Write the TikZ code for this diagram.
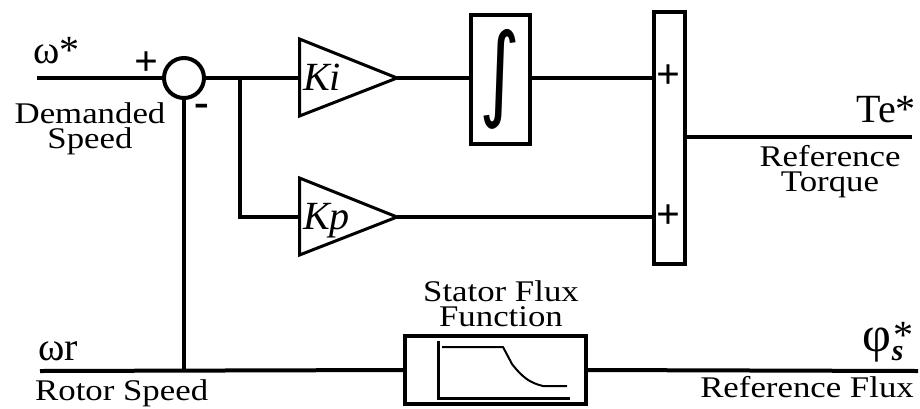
\documentclass[tikz,border=0pt]{standalone}
\usepackage{fontspec}
\setmainfont{Liberation Serif}
\newfontfamily\lblfont{Liberation Serif}[FakeStretch=1.16]
\newfontfamily\intfont{DejaVu Sans}
\usepackage{graphicx}
\usetikzlibrary{calc}

\tikzset{
  wire/.style={line width=3.5pt},
  block/.style={draw, line width=3.5pt, inner sep=0pt},
  gain/.style={line width=3pt, line join=miter},
  lbl/.style={font=\lblfont\fontsize{30}{25}\selectfont, align=center, inner sep=0pt},
  sym/.style={font=\fontsize{40}{40}\selectfont, inner sep=0pt},
  sgn/.style={font=\fontsize{42}{42}\selectfont\bfseries, inner sep=0pt},
}

\begin{document}
\begin{tikzpicture}[x=1pt, y=-1pt]
  \useasboundingbox (0,0) rectangle (920,408);

  % Summing junction
  \node[block, circle, line width=4pt, minimum size=40pt] (sum) at (184,78) {};
  \node[sgn] (plus) at (146,64) {+};
  \node[sgn, font=\fontsize{44}{44}\selectfont\bfseries] (minus) at (202,110) {-};

  % Gains
  \draw[gain] (299.5,39) -- (397,78) coordinate (kiout) -- (299.5,116) -- cycle;
  \coordinate (kiin) at (299.5,78);
  \node[sym, font=\fontsize{40}{40}\selectfont\itshape, anchor=base west] (kilbl) at (303,90) {Ki};

  \draw[gain] (299.5,178) -- (397,217) coordinate (kpout) -- (299.5,255) -- cycle;
  \coordinate (kpin) at (299.5,217);
  \node[sym, font=\fontsize{40}{40}\selectfont\itshape, anchor=base west] (kplbl) at (303,229) {Kp};

  % Integrator
  \node[block, minimum width=59pt, minimum height=129pt] (int) at (500.5,79.5)
    {\resizebox*{41pt}{100pt}{\intfont ∫}};

  % Adder bar
  \node[block, minimum width=31pt, minimum height=252pt] (bar) at (669.5,138) {};
  \foreach \y in {77,217} {
    \node[sgn] at (668,\y) {+};
  }

  % Stator flux function
  \node[block, minimum width=181pt, minimum height=68pt] (flux) at (495.5,370) {};
  \draw[line width=3pt] (438,341) -- (438,398) -- (570,398);
  \draw[line width=2pt] (442,347) -- (503,347) -- (512,364)
    .. controls (522,377) and (530,383) .. (543,386) -- (567,386);
  \node[lbl] (fluxlbl) at (501,304) {Stator Flux\\Function};

  % Signals
  \coordinate (wref) at (37,78);
  \coordinate (br) at (240,78);
  \coordinate (teout) at (912,137);
  \coordinate (wr) at (40,371);
  \coordinate (phiout) at (918,371);

  \draw[wire, line width=4pt] (wref) -- (sum.west);
  \draw[wire, line width=4pt] (sum.east) -- (kiin);
  \draw[wire] (br) |- (kpin);
  \draw[wire] (kiout) -- (kiout -| int.west);
  \draw[wire] (int.east |- kiout) -- (kiout -| bar.west);
  \draw[wire] (kpout) -- (kpout -| bar.west);
  \draw[wire, line width=4pt] (bar.east |- teout) -- (teout);
  \draw[wire, line width=4pt] (wr) -- (flux.west);
  \draw[wire, line width=4pt] (sum.south) -- (sum.south |- wr);
  \draw[wire, line width=4pt] (flux.east) -- (phiout);

  % Labels
  \node[sym, anchor=base west] (wstar) at (33,63) {ω*};
  \node[lbl] (demlbl) at (90,129) {Demanded\\Speed};
  \node[sym, anchor=base east] (te) at (916,122) {Te*};
  \node[lbl] (torquelbl) at (830,172) {Reference\\Torque};
  \node[sym, anchor=base west] (wrlbl) at (38,360) {ωr};
  \node[lbl, anchor=base west] (rotorlbl) at (35,400) {Rotor Speed};
  \node[sym, anchor=base east] (phi) at (914,351)
    {{\fontsize{50}{50}\selectfont φ}\rlap{\raisebox{-9pt}{\fontsize{30}{30}\selectfont\bfseries\itshape s}}\hspace{2pt}\raisebox{3pt}{*}};
  \node[lbl, anchor=base east] (fluxout) at (914,397) {Reference Flux};
\end{tikzpicture}
\end{document}
